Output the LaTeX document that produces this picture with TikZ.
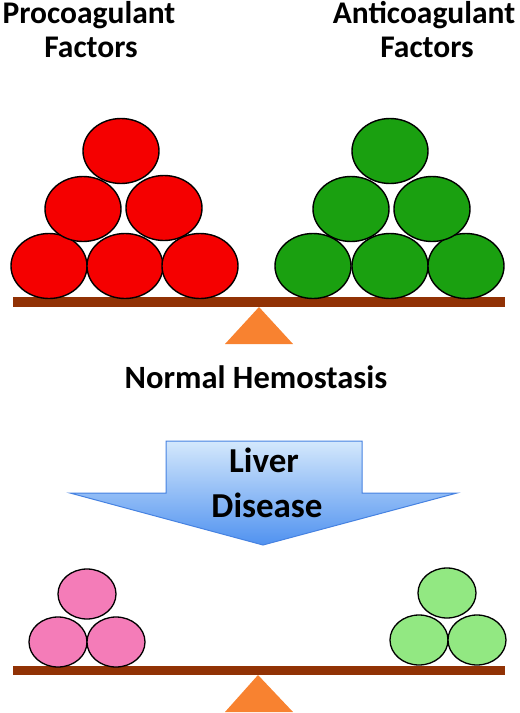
\documentclass[tikz,border=0pt]{standalone}
\usepackage{fontspec}
\setmainfont{Carlito}
\usetikzlibrary{shapes.geometric}
\definecolor{redball}{RGB}{245,0,0}
\definecolor{greenball}{RGB}{26,160,16}
\definecolor{pinkball}{RGB}{244,124,184}
\definecolor{lgreenball}{RGB}{146,232,130}
\definecolor{beamc}{RGB}{145,50,5}
\definecolor{fulcrum}{RGB}{248,130,48}
\definecolor{arrowtop}{RGB}{212,232,252}
\definecolor{arrowbot}{RGB}{80,146,240}
\definecolor{arrowline}{RGB}{70,130,225}
\begin{document}
\begin{tikzpicture}[x=1pt,y=-1pt,
  bigball/.style={ellipse,draw=black,line width=1.4pt,minimum width=76pt,minimum height=65pt,inner sep=0pt},
  smallball/.style={ellipse,draw=black,line width=1.3pt,minimum width=58pt,minimum height=50pt,inner sep=0pt},
  toplbl/.style={font=\fontsize{31.5}{37}\selectfont\bfseries,anchor=base,inner sep=0pt},
  lbl/.style={font=\fontsize{32.5}{38}\selectfont\bfseries,anchor=base,inner sep=0pt},
  arrlbl/.style={font=\fontsize{35}{40}\selectfont\bfseries,anchor=base,inner sep=0pt},
  beam/.style={fill=beamc},
  pivot/.style={fill=fulcrum}]
\useasboundingbox (0,0) rectangle (520,713);
% labels
\node[toplbl] (pro1) at (89,23) {Procoagulant};
\node[toplbl] (pro2) at (91,57) {Factors};
\node[toplbl] (anti1) at (424,23) {Anticoagulant};
\node[toplbl] (anti2) at (427,57) {Factors};
% top balance
\fill[beam] (13,297) rectangle (505,307);
\fill[pivot] (259,307) -- (293,344) -- (225,344) -- cycle;
\node[bigball,fill=redball] (r1) at (49,266) {};
\node[bigball,fill=redball] (r2) at (125,266) {};
\node[bigball,fill=redball] (r3) at (200,266) {};
\node[bigball,fill=redball] (r4) at (83,209) {};
\node[bigball,fill=redball] (r5) at (164,208) {};
\node[bigball,fill=redball] (r6) at (121,151) {};
\node[bigball,fill=greenball] (g1) at (313,266) {};
\node[bigball,fill=greenball] (g2) at (390,266) {};
\node[bigball,fill=greenball] (g3) at (466,266) {};
\node[bigball,fill=greenball] (g4) at (351,209) {};
\node[bigball,fill=greenball] (g5) at (432,209) {};
\node[bigball,fill=greenball] (g6) at (390,151) {};
\node[lbl] (normal) at (256,388) {Normal Hemostasis};
% arrow
\shade[top color=arrowtop,bottom color=arrowbot,draw=arrowline,line width=1pt,line join=miter]
  (166,441) -- (362,441) -- (362,493) -- (457,493) -- (263,545) -- (70,493) -- (166,493) -- cycle;
\node[arrlbl] (liver) at (264,472) {Liver};
\node[arrlbl] (disease) at (267,517) {Disease};
% bottom balance
\fill[beam] (13,666) rectangle (505,675);
\fill[pivot] (258,675) -- (293,712) -- (225,712) -- cycle;
\node[smallball,fill=pinkball] (p1) at (58,642) {};
\node[smallball,fill=pinkball] (p2) at (116,642) {};
\node[smallball,fill=pinkball] (p3) at (87,594) {};
\node[smallball,fill=lgreenball] (l1) at (419,640) {};
\node[smallball,fill=lgreenball] (l2) at (477,640) {};
\node[smallball,fill=lgreenball] (l3) at (447,593) {};
\end{tikzpicture}
\end{document}
